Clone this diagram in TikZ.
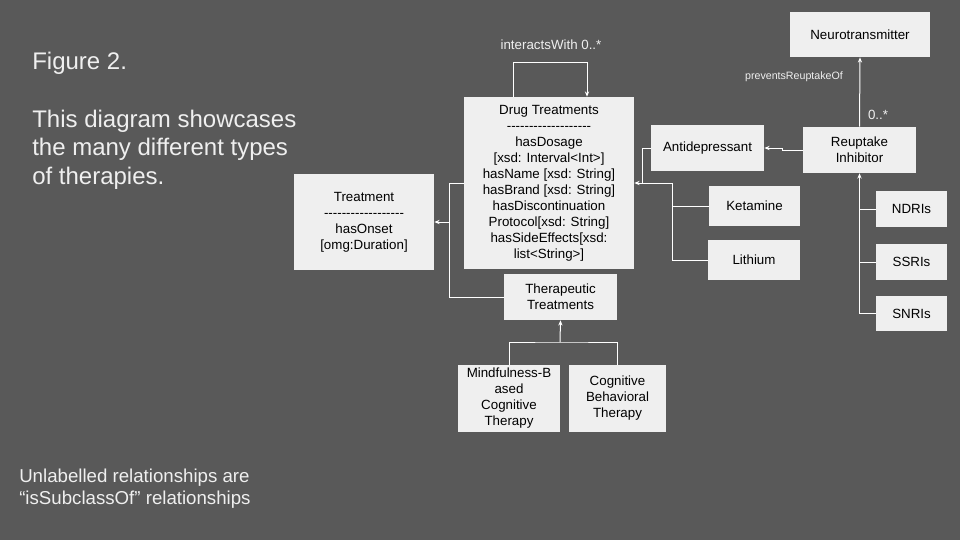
\documentclass[tikz,border=0pt]{standalone}
\usepackage{fontspec}
\newfontfamily\slidefont{Liberation Sans}
\usetikzlibrary{arrows.meta,positioning,calc}
\definecolor{slidebg}{HTML}{595959}
\definecolor{boxfill}{HTML}{EFEFEF}

\tikzset{
  classbox/.style={fill=boxfill, text=black, align=center, inner sep=0pt,
    font=\slidefont\fontsize{10}{12}\selectfont},
  rel/.style={draw=white, line width=0.75pt},
  isa/.style={rel, -{Stealth[length=4pt,width=3.2pt]}},
  rellabel/.style={text=boxfill, inner sep=0pt, font=\slidefont\fontsize{10}{12}\selectfont},
  slidetext/.style={text=boxfill, inner sep=0pt, align=left},
}

\begin{document}
\begin{tikzpicture}[x=0.75pt, y=-0.75pt]
  %% background
  \fill[slidebg] (0,0) rectangle (960,540);

  %% captions
  \node[slidetext, anchor=base west, font=\slidefont\fontsize{18}{21.75}\selectfont] (figtitle) at (32,69) {Figure 2.};
  \node[slidetext, anchor=north west, font=\slidefont\fontsize{18}{21.6}\selectfont] (figdesc) at (32,109.5)
    {This diagram showcases\\the many different types\\of therapies.};
  \node[slidetext, anchor=north west, font=\slidefont\fontsize{14}{16.5}\selectfont] (legend) at (19,468.4)
    {Unlabelled relationships are\\“isSubclassOf” relationships};

  %% classes
  \node[classbox, minimum width=105pt, minimum height=33.75pt] (neuro) at (860,34.5) {Neurotransmitter};
  \node[classbox, minimum width=84.75pt, minimum height=34.5pt] (reuptake) at (859.5,150) {Reuptake\\Inhibitor};
  \node[classbox, minimum width=84.75pt, minimum height=34.5pt] (antidep) at (707.5,148) {Antidepressant};
  \node[classbox, minimum width=68.25pt, minimum height=30pt] (ketamine) at (754.5,206) {Ketamine};
  \node[classbox, minimum width=69pt, minimum height=30pt] (lithium) at (754,260) {Lithium};
  \node[classbox, minimum width=53.25pt, minimum height=27pt] (ndri) at (911.5,209) {NDRIs};
  \node[classbox, minimum width=53.25pt, minimum height=27pt] (ssri) at (911.5,262) {SSRIs};
  \node[classbox, minimum width=53.25pt, minimum height=26.25pt] (snri) at (911.5,313.5) {SNRIs};
  \node[classbox, minimum width=127.5pt, minimum height=129pt] (drug) at (549,183)
    {Drug Treatments\\-------------------\\hasDosage\\{}[xsd: Interval<Int>]\\hasName [xsd: String]\\hasBrand [xsd: String]\\hasDiscontinuation\\Protocol[xsd: String]\\hasSideEffects[xsd:\\list<String>]};
  \node[classbox, minimum width=105pt, minimum height=72pt] (treatment) at (364,222)
    {Treatment\\------------------\\hasOnset\\{}[omg:Duration]};
  \node[classbox, minimum width=84.75pt, minimum height=34.5pt] (therapeutic) at (560.5,297) {Therapeutic\\Treatments};
  \node[classbox, minimum width=76.5pt, minimum height=50.25pt] (mindful) at (509,398.5) {Mindfulness-B\\ased\\Cognitive\\Therapy};
  \node[classbox, minimum width=72.75pt, minimum height=50.25pt] (cbt) at (617.5,398.5) {Cognitive\\Behavioral\\Therapy};

  %% interactsWith
  \coordinate (loopL) at (513,62);
  \coordinate (loopR) at (587,62);
  \draw[isa] (loopL |- drug.north) -- (loopL) -- (loopR) -- (loopR |- drug.north);
  \node[rellabel] (interacts) at (551,45) {interactsWith 0..*};

  %% into Treatment
  \coordinate (jTreat) at (449,222);
  \draw[rel] (drug.west) -| (jTreat);
  \draw[rel] (therapeutic.west) -| (jTreat);
  \draw[isa] (jTreat) -- (treatment.east);

  %% into Drug Treatments
  \coordinate (jDrug) at (642,183);
  \coordinate (jMed) at (672,183);
  \draw[rel] (antidep.west) -| (jDrug);
  \draw[rel] (ketamine.west) -| (jMed) -- (jDrug);
  \draw[rel] (lithium.west) -| (jMed);
  \draw[isa] (jDrug) -- (drug.east);

  %% Reuptake Inhibitor
  \draw[isa] (reuptake.west) -- ++(-20,0) |- (antidep.east);
  \draw[isa] (reuptake.north) -- (neuro.south);
  \node[rellabel] (card) at (878,115) {0..*};
  \node[rellabel, font=\slidefont\fontsize{8}{10}\selectfont] (prevents) at (794,77) {preventsReuptakeOf};
  \draw[rel] (ndri.west) -- (ndri.west -| reuptake.south);
  \draw[rel] (ssri.west) -- (ssri.west -| reuptake.south);
  \draw[isa] (snri.west) -| (reuptake.south);

  %% therapies
  \coordinate (jTher) at (560,342);
  \draw[rel] (mindful.north) |- (jTher) -| (cbt.north);
  \draw[isa] (jTher) -- (therapeutic.south);
\end{tikzpicture}
\end{document}
